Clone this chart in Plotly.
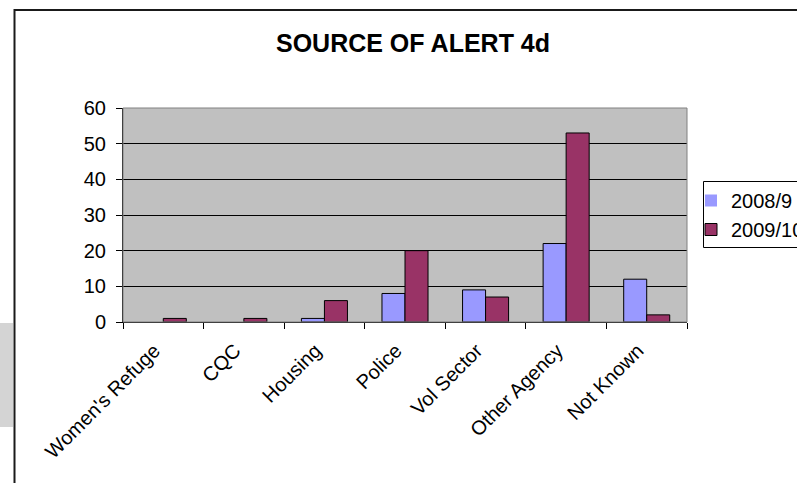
import plotly.graph_objects as go

# Alert sources by year
categories = ["Women's Refuge", "CQC", "Housing", "Police", "Vol Sector", "Other Agency", "Not Known"]
series_2008_9 = [0, 0, 1, 8, 9, 22, 12]
series_2009_10 = [1, 1, 6, 20, 7, 53, 2]
y_ticks = [0, 10, 20, 30, 40, 50, 60]

FONT = "Arial, Liberation Sans, sans-serif"

W, H = 797, 483
L, R, T, B = 123, 110, 108, 161
pw, ph = W - L - R, H - T - B


def px_x(x):
    return (x - L) / pw


def px_y(y):
    return (H - B - y) / ph


def outline_widths(values):
    # empty bars get no outline
    return [1 if v else 0 for v in values]


fig = go.Figure()
fig.add_trace(go.Bar(
    name="2008/9", x=categories, y=series_2008_9,
    marker=dict(color="#9999FF", line=dict(color="black", width=outline_widths(series_2008_9))),
))
fig.add_trace(go.Bar(
    name="2009/10", x=categories, y=series_2009_10,
    marker=dict(color="#993366", line=dict(color="black", width=outline_widths(series_2009_10))),
))

shapes = [
    # outer chart frame
    dict(type="rect", xref="paper", yref="paper",
         x0=px_x(14.5), x1=px_x(830), y0=px_y(10), y1=px_y(520),
         line=dict(color="#1a1a1a", width=2), fillcolor="rgba(0,0,0,0)", layer="above"),
    # grey strip at the left edge
    dict(type="rect", xref="paper", yref="paper",
         x0=px_x(-2), x1=px_x(13), y0=px_y(323), y1=px_y(427),
         line=dict(width=0), fillcolor="#d4d4d4", layer="above"),
    # plot area border
    dict(type="rect", xref="paper", yref="paper",
         x0=0, x1=1, y0=0, y1=1,
         line=dict(color="#808080", width=1), fillcolor="rgba(0,0,0,0)", layer="above"),
    # legend box
    dict(type="rect", xref="paper", yref="paper",
         x0=px_x(703.5), x1=px_x(830), y0=px_y(181.5), y1=px_y(247.5),
         line=dict(color="black", width=1), fillcolor="rgba(0,0,0,0)", layer="above"),
]

fig.update_layout(
    width=W, height=H,
    margin=dict(l=L, r=R, t=T, b=B, autoexpand=False),
    paper_bgcolor="white",
    plot_bgcolor="#C0C0C0",
    barmode="group",
    bargap=1.5 / 3.5,
    bargroupgap=0,
    font=dict(family=FONT, size=20, color="black"),
    title=dict(text="<b>SOURCE OF ALERT 4d</b>", x=413 / W, xanchor="center",
               y=1 - 43 / H, yanchor="middle",
               font=dict(family=FONT, size=25, color="black")),
    showlegend=True,
    legend=dict(x=px_x(691), xanchor="left", y=px_y(181), yanchor="top",
                bgcolor="rgba(0,0,0,0)", borderwidth=0,
                font=dict(family=FONT, size=20, color="black"),
                tracegroupgap=0),
    shapes=shapes,
)

fig.update_yaxes(
    range=[0, 60], tickvals=y_ticks, ticktext=[str(v) for v in y_ticks],
    showgrid=True, gridcolor="black", gridwidth=1,
    showline=True, linecolor="black", linewidth=1,
    ticks="outside", ticklen=6, tickcolor="black",
    ticklabelstandoff=6, zeroline=False,
)
fig.update_xaxes(
    showline=True, linecolor="black", linewidth=1,
    ticks="outside", ticklen=6, tickcolor="black",
    tickson="boundaries", tickangle=-45,
    ticklabelstandoff=8, ticklabelshift=-9,
    showgrid=False,
)

fig.write_html("out.html")
